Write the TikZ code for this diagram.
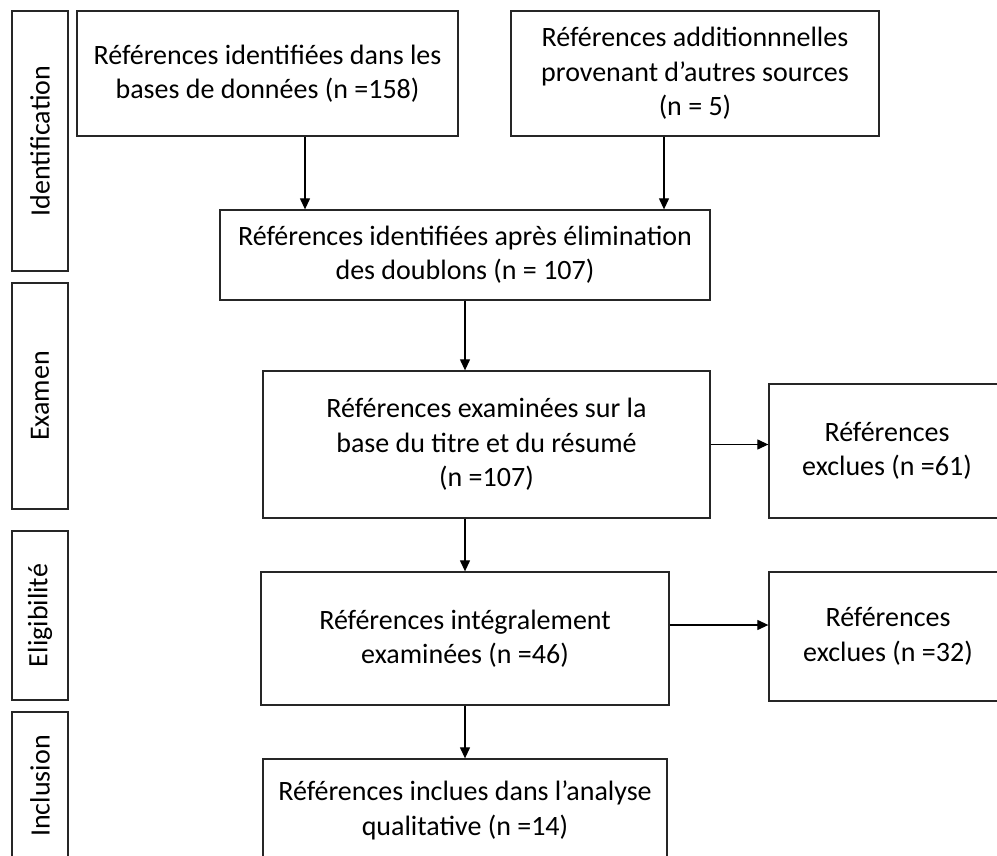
\documentclass[tikz,border=0pt]{standalone}
\usepackage{fontspec}
\setmainfont{Carlito}
\usetikzlibrary{arrows.meta,calc}
\begin{document}
\begin{tikzpicture}[x=0.5pt,y=-0.5pt,
    box/.style={draw=black!85,line width=0.65pt,align=center,inner sep=0pt,
      font=\fontsize{14}{17.2}\selectfont},
    phase/.style={box,rotate=90,minimum height=28pt}]
      \clip (0,0) rectangle (997,856);
      \draw
        (40,141) node[phase,minimum width=130pt] (id){Identification}
        (40,396) node[phase,minimum width=113pt] (ex){Examen}
        (40,615.5) node[phase,minimum width=84.5pt] (el){Eligibilité}
        (40,786) node[phase,minimum width=74pt] (in){Inclusion};
      \draw
        (267.5,73.5) node[box,minimum width=190.5pt,minimum height=62.5pt] (bases){Références identifiées dans les\\bases de données (n =158)}
        (695,73.5) node[box,minimum width=184pt,minimum height=62.5pt] (autres){Références additionnnelles\\provenant d’autres sources\\(n = 5)}
        (465,255) node[box,minimum width=245pt,minimum height=45pt] (doublons){Références identifiées après élimination\\des doublons (n = 107)}
        (486.5,444.5) node[box,minimum width=223.5pt,minimum height=73.5pt] (resume){Références examinées sur la\\base du titre et du résumé\\(n =107)}
        (887,451) node[box,minimum width=118pt,minimum height=67pt] (excl1){Références\\exclues (n =61)}
        (465,638.5) node[box,minimum width=204pt,minimum height=66.5pt] (integral){Références intégralement\\examinées (n =46)}
        (888,636.5) node[box,minimum width=119pt,minimum height=64.5pt] (excl2){Références\\exclues (n =32)}
        (465,810.5) node[box,minimum width=202pt,minimum height=51.5pt] (inclues){Références inclues dans l’analyse\\qualitative (n =14)};
      % arrow feet that are off centre
      \coordinate (p1) at ($(bases.south)+(37.5,0)$);
      \coordinate (p2) at ($(autres.south)+(-31,0)$);
      \coordinate (p3) at ($(integral.east)+(0,-13.5)$);
      \begin{scope}[-{Triangle[length=5.5pt,width=5pt]},line width=0.6pt]
        \draw (p1) to (p1 |- doublons.north);
        \draw (p2) to (p2 |- doublons.north);
        \draw (doublons.south) to (doublons.south |- resume.north);
        \draw (integral.north |- resume.south) to (integral.north);
        \draw (resume.east) to (resume.east -| excl1.west);
        \draw (p3) to (p3 -| excl2.west);
        \draw (integral.south) to (inclues.north);
      \end{scope}
    \end{tikzpicture}
\end{document}
